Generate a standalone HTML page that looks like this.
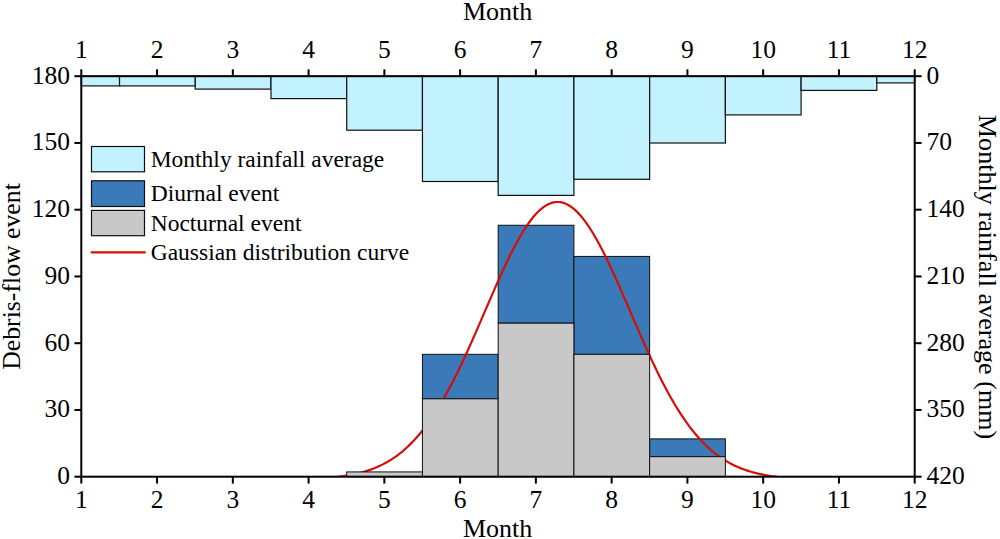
<!DOCTYPE html>
<html><head><meta charset="utf-8"><title>Debris-flow events and monthly rainfall</title>
<style>html,body{margin:0;padding:0;background:#fff;}body{width:1000px;height:539px;overflow:hidden;}svg{display:block;}text{font-family:"Liberation Serif",serif;fill:#000;}</style>
</head><body>
<svg width="1000" height="539" viewBox="0 0 1000 539">
<rect x="0" y="0" width="1000" height="539" fill="#ffffff"/>
<defs><clipPath id="plot"><rect x="81.3" y="76.2" width="833.40" height="400.50"/></clipPath></defs>
<g fill="#c1f2fe" stroke="#101010" stroke-width="1.2" stroke-linejoin="miter">
<rect x="81.30" y="76.20" width="38.23" height="9.70"/>
<rect x="119.53" y="76.20" width="75.73" height="9.70"/>
<rect x="195.26" y="76.20" width="75.73" height="12.90"/>
<rect x="270.99" y="76.20" width="75.73" height="22.40"/>
<rect x="346.72" y="76.20" width="75.73" height="54.00"/>
<rect x="422.45" y="76.20" width="75.73" height="105.30"/>
<rect x="498.18" y="76.20" width="75.73" height="119.20"/>
<rect x="573.91" y="76.20" width="75.73" height="103.10"/>
<rect x="649.64" y="76.20" width="75.73" height="66.80"/>
<rect x="725.37" y="76.20" width="75.73" height="38.70"/>
<rect x="801.10" y="76.20" width="75.73" height="14.20"/>
<rect x="876.83" y="76.20" width="37.87" height="6.70"/>
</g>
<g fill="#3a7ab9" stroke="#101010" stroke-width="1">
<rect x="422.45" y="354.32" width="75.73" height="44.50"/>
<rect x="498.18" y="225.27" width="75.73" height="97.90"/>
<rect x="573.91" y="256.42" width="75.73" height="97.90"/>
<rect x="649.64" y="438.88" width="75.73" height="17.80"/>
</g>
<polyline clip-path="url(#plot)" fill="none" stroke="#d70e07" stroke-width="2.2" stroke-linejoin="round" points="308.59,478.93 310.11,478.87 311.62,478.81 313.14,478.75 314.65,478.68 316.17,478.60 317.68,478.52 319.20,478.44 320.71,478.35 322.23,478.25 323.74,478.15 325.26,478.05 326.77,477.93 328.29,477.81 329.80,477.68 331.32,477.55 332.84,477.40 334.35,477.25 335.87,477.09 337.38,476.91 338.90,476.73 340.41,476.54 341.93,476.34 343.44,476.12 344.96,475.90 346.47,475.66 347.99,475.40 349.50,475.14 351.02,474.86 352.53,474.56 354.05,474.25 355.56,473.92 357.08,473.58 358.59,473.22 360.11,472.84 361.63,472.44 363.14,472.02 364.66,471.58 366.17,471.11 367.69,470.63 369.20,470.12 370.72,469.59 372.23,469.04 373.75,468.45 375.26,467.85 376.78,467.21 378.29,466.55 379.81,465.85 381.32,465.13 382.84,464.38 384.35,463.59 385.87,462.77 387.39,461.92 388.90,461.03 390.42,460.10 391.93,459.14 393.45,458.14 394.96,457.11 396.48,456.03 397.99,454.91 399.51,453.75 401.02,452.55 402.54,451.31 404.05,450.02 405.57,448.69 407.08,447.31 408.60,445.88 410.11,444.41 411.63,442.89 413.14,441.32 414.66,439.70 416.18,438.03 417.69,436.31 419.21,434.54 420.72,432.72 422.24,430.84 423.75,428.91 425.27,426.93 426.78,424.90 428.30,422.81 429.81,420.66 431.33,418.47 432.84,416.22 434.36,413.91 435.87,411.56 437.39,409.14 438.90,406.68 440.42,404.16 441.93,401.59 443.45,398.96 444.97,396.29 446.48,393.56 448.00,390.78 449.51,387.96 451.03,385.08 452.54,382.16 454.06,379.19 455.57,376.18 457.09,373.12 458.60,370.02 460.12,366.88 461.63,363.69 463.15,360.47 464.66,357.22 466.18,353.93 467.69,350.61 469.21,347.26 470.73,343.88 472.24,340.48 473.76,337.05 475.27,333.60 476.79,330.13 478.30,326.65 479.82,323.16 481.33,319.65 482.85,316.14 484.36,312.63 485.88,309.11 487.39,305.60 488.91,302.09 490.42,298.58 491.94,295.09 493.45,291.62 494.97,288.16 496.48,284.72 498.00,281.31 499.52,277.93 501.03,274.58 502.55,271.26 504.06,267.99 505.58,264.75 507.09,261.56 508.61,258.42 510.12,255.33 511.64,252.30 513.15,249.33 514.67,246.42 516.18,243.58 517.70,240.81 519.21,238.11 520.73,235.48 522.24,232.94 523.76,230.47 525.27,228.09 526.79,225.80 528.31,223.60 529.82,221.50 531.34,219.49 532.85,217.58 534.37,215.77 535.88,214.06 537.40,212.46 538.91,210.97 540.43,209.58 541.94,208.31 543.46,207.15 544.97,206.10 546.49,205.17 548.00,204.36 549.52,203.66 551.03,203.09 552.55,202.63 554.07,202.30 555.58,202.08 557.10,201.98 558.61,202.01 560.13,202.16 561.64,202.43 563.16,202.81 564.67,203.32 566.19,203.95 567.70,204.70 569.22,205.56 570.73,206.54 572.25,207.63 573.76,208.84 575.28,210.16 576.79,211.60 578.31,213.14 579.82,214.78 581.34,216.53 582.86,218.39 584.37,220.34 585.89,222.39 587.40,224.54 588.92,226.78 590.43,229.11 591.95,231.52 593.46,234.02 594.98,236.60 596.49,239.26 598.01,241.99 599.52,244.79 601.04,247.66 602.55,250.60 604.07,253.60 605.58,256.66 607.10,259.77 608.61,262.93 610.13,266.14 611.65,269.39 613.16,272.68 614.68,276.02 616.19,279.38 617.71,282.78 619.22,286.20 620.74,289.64 622.25,293.11 623.77,296.59 625.28,300.09 626.80,303.59 628.31,307.11 629.83,310.62 631.34,314.14 632.86,317.65 634.37,321.16 635.89,324.66 637.41,328.15 638.92,331.63 640.44,335.09 641.95,338.53 643.47,341.94 644.98,345.34 646.50,348.70 648.01,352.04 649.53,355.35 651.04,358.62 652.56,361.86 654.07,365.07 655.59,368.23 657.10,371.36 658.62,374.44 660.13,377.48 661.65,380.47 663.16,383.42 664.68,386.32 666.20,389.18 667.71,391.98 669.23,394.74 670.74,397.45 672.26,400.10 673.77,402.70 675.29,405.25 676.80,407.74 678.32,410.19 679.83,412.58 681.35,414.91 682.86,417.19 684.38,419.42 685.89,421.59 687.41,423.71 688.92,425.78 690.44,427.79 691.95,429.75 693.47,431.65 694.99,433.51 696.50,435.31 698.02,437.06 699.53,438.75 701.05,440.40 702.56,442.00 704.08,443.55 705.59,445.05 707.11,446.50 708.62,447.91 710.14,449.27 711.65,450.58 713.17,451.85 714.68,453.07 716.20,454.26 717.71,455.40 719.23,456.50 720.75,457.56 722.26,458.58 723.78,459.56 725.29,460.51 726.81,461.41 728.32,462.29 729.84,463.13 731.35,463.93 732.87,464.70 734.38,465.44 735.90,466.15 737.41,466.84 738.93,467.49 740.44,468.11 741.96,468.71 743.47,469.28 744.99,469.82 746.50,470.34 748.02,470.84 749.54,471.32 751.05,471.77 752.57,472.20 754.08,472.61 755.60,473.00 757.11,473.37 758.63,473.73 760.14,474.07 761.66,474.39 763.17,474.69 764.69,474.98 766.20,475.25 767.72,475.51 769.23,475.76 770.75,475.99 772.26,476.22 773.78,476.43 775.29,476.62 776.81,476.81 778.33,476.99 779.84,477.16 781.36,477.32 782.87,477.46 784.39,477.61 785.90,477.74 787.42,477.86 788.93,477.98 790.45,478.09 791.96,478.20 793.48,478.30 794.99,478.39 796.51,478.48 798.02,478.56 799.54,478.63 801.05,478.71 802.57,478.77 804.09,478.84 805.60,478.90 807.12,478.95 808.63,479.01 810.15,479.05 811.66,479.10 813.18,479.14 814.69,479.18 816.21,479.22 817.72,479.25 819.24,479.29 820.75,479.32 822.27,479.35 823.78,479.37"/>
<g fill="#c8c8c8" stroke="#101010" stroke-width="1">
<rect x="346.72" y="471.92" width="75.73" height="4.78"/>
<rect x="422.45" y="398.82" width="75.73" height="77.88"/>
<rect x="498.18" y="323.17" width="75.73" height="153.53"/>
<rect x="573.91" y="354.32" width="75.73" height="122.38"/>
<rect x="649.64" y="456.68" width="75.73" height="20.02"/>
</g>
<g stroke="#000" stroke-width="2" fill="none" stroke-linecap="butt">
<rect x="81.3" y="76.2" width="833.40" height="400.50"/>
<line x1="81.30" y1="76.2" x2="81.30" y2="69.30"/>
<line x1="81.30" y1="476.7" x2="81.30" y2="483.60"/>
<line x1="157.06" y1="76.2" x2="157.06" y2="69.30"/>
<line x1="157.06" y1="476.7" x2="157.06" y2="483.60"/>
<line x1="232.83" y1="76.2" x2="232.83" y2="69.30"/>
<line x1="232.83" y1="476.7" x2="232.83" y2="483.60"/>
<line x1="308.59" y1="76.2" x2="308.59" y2="69.30"/>
<line x1="308.59" y1="476.7" x2="308.59" y2="483.60"/>
<line x1="384.35" y1="76.2" x2="384.35" y2="69.30"/>
<line x1="384.35" y1="476.7" x2="384.35" y2="483.60"/>
<line x1="460.12" y1="76.2" x2="460.12" y2="69.30"/>
<line x1="460.12" y1="476.7" x2="460.12" y2="483.60"/>
<line x1="535.88" y1="76.2" x2="535.88" y2="69.30"/>
<line x1="535.88" y1="476.7" x2="535.88" y2="483.60"/>
<line x1="611.65" y1="76.2" x2="611.65" y2="69.30"/>
<line x1="611.65" y1="476.7" x2="611.65" y2="483.60"/>
<line x1="687.41" y1="76.2" x2="687.41" y2="69.30"/>
<line x1="687.41" y1="476.7" x2="687.41" y2="483.60"/>
<line x1="763.17" y1="76.2" x2="763.17" y2="69.30"/>
<line x1="763.17" y1="476.7" x2="763.17" y2="483.60"/>
<line x1="838.94" y1="76.2" x2="838.94" y2="69.30"/>
<line x1="838.94" y1="476.7" x2="838.94" y2="483.60"/>
<line x1="914.70" y1="76.2" x2="914.70" y2="69.30"/>
<line x1="914.70" y1="476.7" x2="914.70" y2="483.60"/>
<line x1="81.3" y1="476.70" x2="74.40" y2="476.70"/>
<line x1="81.3" y1="409.95" x2="74.40" y2="409.95"/>
<line x1="81.3" y1="343.20" x2="74.40" y2="343.20"/>
<line x1="81.3" y1="276.45" x2="74.40" y2="276.45"/>
<line x1="81.3" y1="209.70" x2="74.40" y2="209.70"/>
<line x1="81.3" y1="142.95" x2="74.40" y2="142.95"/>
<line x1="81.3" y1="76.20" x2="74.40" y2="76.20"/>
<line x1="914.7" y1="76.20" x2="921.60" y2="76.20"/>
<line x1="914.7" y1="142.95" x2="921.60" y2="142.95"/>
<line x1="914.7" y1="209.70" x2="921.60" y2="209.70"/>
<line x1="914.7" y1="276.45" x2="921.60" y2="276.45"/>
<line x1="914.7" y1="343.20" x2="921.60" y2="343.20"/>
<line x1="914.7" y1="409.95" x2="921.60" y2="409.95"/>
<line x1="914.7" y1="476.70" x2="921.60" y2="476.70"/>
</g>
<g font-size="25.5">
<text x="81.30" y="57.8" text-anchor="middle">1</text>
<text x="81.30" y="508.3" text-anchor="middle">1</text>
<text x="157.06" y="57.8" text-anchor="middle">2</text>
<text x="157.06" y="508.3" text-anchor="middle">2</text>
<text x="232.83" y="57.8" text-anchor="middle">3</text>
<text x="232.83" y="508.3" text-anchor="middle">3</text>
<text x="308.59" y="57.8" text-anchor="middle">4</text>
<text x="308.59" y="508.3" text-anchor="middle">4</text>
<text x="384.35" y="57.8" text-anchor="middle">5</text>
<text x="384.35" y="508.3" text-anchor="middle">5</text>
<text x="460.12" y="57.8" text-anchor="middle">6</text>
<text x="460.12" y="508.3" text-anchor="middle">6</text>
<text x="535.88" y="57.8" text-anchor="middle">7</text>
<text x="535.88" y="508.3" text-anchor="middle">7</text>
<text x="611.65" y="57.8" text-anchor="middle">8</text>
<text x="611.65" y="508.3" text-anchor="middle">8</text>
<text x="687.41" y="57.8" text-anchor="middle">9</text>
<text x="687.41" y="508.3" text-anchor="middle">9</text>
<text x="763.17" y="57.8" text-anchor="middle">10</text>
<text x="763.17" y="508.3" text-anchor="middle">10</text>
<text x="838.94" y="57.8" text-anchor="middle">11</text>
<text x="838.94" y="508.3" text-anchor="middle">11</text>
<text x="914.70" y="57.8" text-anchor="middle">12</text>
<text x="914.70" y="508.3" text-anchor="middle">12</text>
<text x="70" y="484.10" text-anchor="end">0</text>
<text x="70" y="417.35" text-anchor="end">30</text>
<text x="70" y="350.60" text-anchor="end">60</text>
<text x="70" y="283.85" text-anchor="end">90</text>
<text x="70" y="217.10" text-anchor="end">120</text>
<text x="70" y="150.35" text-anchor="end">150</text>
<text x="70" y="83.60" text-anchor="end">180</text>
<text x="926.4" y="83.60" text-anchor="start">0</text>
<text x="926.4" y="150.35" text-anchor="start">70</text>
<text x="926.4" y="217.10" text-anchor="start">140</text>
<text x="926.4" y="283.85" text-anchor="start">210</text>
<text x="926.4" y="350.60" text-anchor="start">280</text>
<text x="926.4" y="417.35" text-anchor="start">350</text>
<text x="926.4" y="484.10" text-anchor="start">420</text>
</g>
<g font-size="26">
<text x="497.6" y="19.6" text-anchor="middle">Month</text>
<text x="497.6" y="536.9" text-anchor="middle">Month</text>
<text transform="translate(20.3,276.5) rotate(-90)" text-anchor="middle" font-size="25.75">Debris-flow event</text>
<text transform="translate(979.2,277.1) rotate(90)" text-anchor="middle" font-size="26.15">Monthly rainfall average (mm)</text>
</g>
<g stroke="#101010" stroke-width="1.2">
<rect x="91.5" y="146.5" width="53" height="25.3" fill="#c1f2fe"/>
<rect x="91.5" y="180.8" width="53" height="25.7" fill="#3a7ab9"/>
<rect x="91.5" y="210.4" width="53" height="25.3" fill="#c8c8c8"/>
</g>
<line x1="91.6" y1="252.3" x2="144.9" y2="252.3" stroke="#d70e07" stroke-width="2.2" stroke-linecap="round"/>
<g font-size="23.5">
<text x="150.7" y="167.1">Monthly rainfall average</text>
<text x="150.7" y="200.9">Diurnal event</text>
<text x="150.7" y="230.8">Nocturnal event</text>
<text x="150.7" y="259.9">Gaussian distribution curve</text>
</g>
</svg></body></html>
